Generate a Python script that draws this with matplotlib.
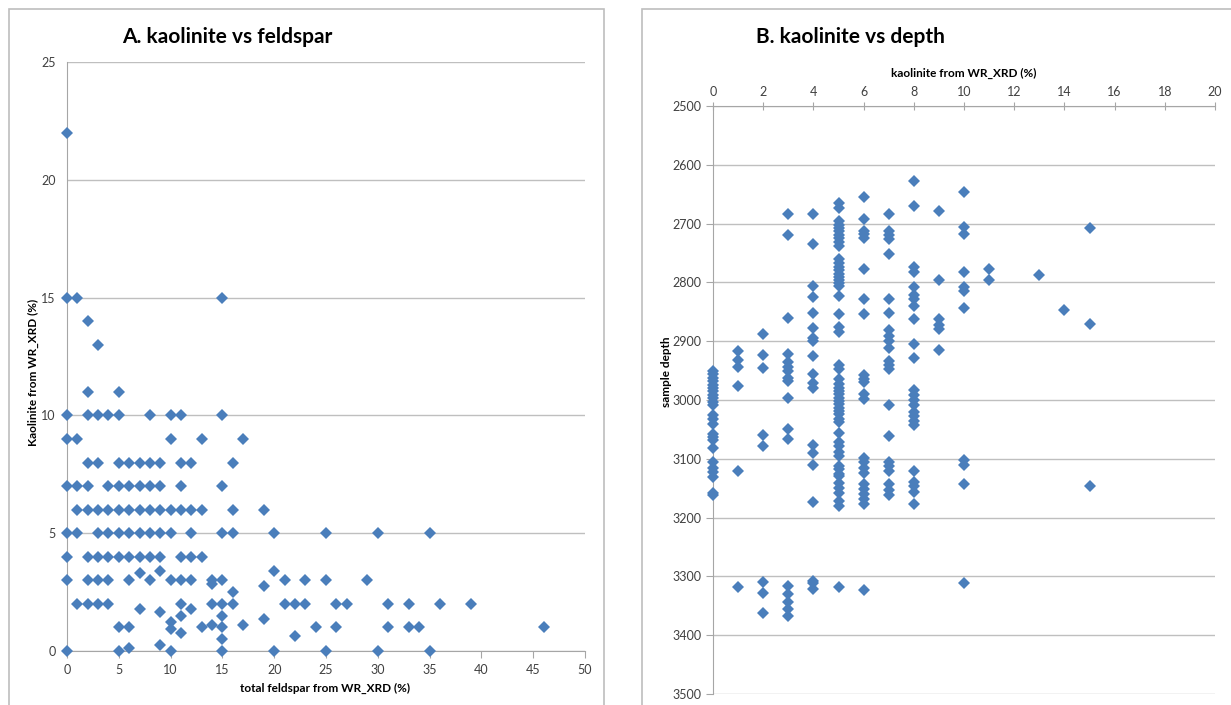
import matplotlib
matplotlib.use('Agg')
import matplotlib.pyplot as plt
from matplotlib.patches import Rectangle

plt.rcParams['font.family'] = ['Lato', 'DejaVu Sans']

# A. kaolinite vs feldspar (x = total feldspar %, y = kaolinite %)
feldspar = [0,
            0, 1, 15,
            2, 3, 2, 5,
            0, 2, 3, 4, 5, 8, 10, 11, 15,
            0, 1, 10, 13, 17,
            2, 3, 5, 6, 7, 8, 9, 11, 12, 16,
            0, 1, 2, 4, 5, 6, 7, 8, 9, 11, 15,
            1, 2, 3, 4, 5, 6, 7, 8, 9, 10, 11, 12, 13, 16, 19,
            0, 1, 3, 4, 5, 6, 7, 8, 9, 10, 12, 15, 16, 20, 25, 30, 35,
            0, 2, 3, 4, 5, 6, 7, 8, 9, 11, 12, 13,
            0, 2, 3, 4, 6, 8, 10, 11, 12, 14, 15, 21, 23, 25, 29,
            7, 9, 20, 14, 19, 16,
            1, 2, 3, 4, 11, 14, 15, 16, 21, 22, 23, 26, 27, 31, 33, 36, 39,
            7, 12, 9, 11, 15, 10, 19, 14, 17,
            5, 6, 13, 15, 24, 26, 31, 33, 34, 46, 10,
            11, 22, 15, 9, 6,
            0, 5, 10, 15, 20, 25, 30, 35]
kaolinite_a = [22,
               15, 15, 15,
               14, 13, 11, 11,
               10, 10, 10, 10, 10, 10, 10, 10, 10,
               9, 9, 9, 9, 9,
               8, 8, 8, 8, 8, 8, 8, 8, 8, 8,
               7, 7, 7, 7, 7, 7, 7, 7, 7, 7, 7,
               6, 6, 6, 6, 6, 6, 6, 6, 6, 6, 6, 6, 6, 6, 6,
               5, 5, 5, 5, 5, 5, 5, 5, 5, 5, 5, 5, 5, 5, 5, 5, 5,
               4, 4, 4, 4, 4, 4, 4, 4, 4, 4, 4, 4,
               3, 3, 3, 3, 3, 3, 3, 3, 3, 3, 3, 3, 3, 3, 3,
               3.3, 3.4, 3.4, 2.85, 2.75, 2.5,
               2, 2, 2, 2, 2, 2, 2, 2, 2, 2, 2, 2, 2, 2, 2, 2, 2,
               1.8, 1.8, 1.65, 1.5, 1.5, 1.25, 1.35, 1.1, 1.1,
               1, 1, 1, 1, 1, 1, 1, 1, 1, 1, 0.95,
               0.75, 0.65, 0.5, 0.25, 0.12,
               0, 0, 0, 0, 0, 0, 0, 0]

# B. kaolinite vs depth
kaol_0 = [2950, 2956, 2962, 2968, 2974, 2980, 2985, 2991, 2997, 3003, 3009, 3026,
          3032, 3040, 3058, 3063, 3068, 3081, 3106, 3115, 3122, 3131, 3158, 3162]
kaol_1 = [2917, 2932, 2944, 2977, 3120, 3318]
kaol_2 = [2888, 2924, 2945, 3059, 3079, 3309, 3329, 3362]
kaol_3 = [2683, 2720, 2861, 2921, 2936, 2944, 2950, 2963, 2967, 2997, 3050, 3067,
          3316, 3330, 3343, 3356, 3368]
kaol_4 = [2683, 2735, 2806, 2825, 2852, 2878, 2894, 2900, 2925, 2956, 2971, 2979,
          3076, 3090, 3111, 3173, 3307, 3312, 3322]
kaol_5 = [2665, 2673, 2695, 2702, 2708, 2713, 2719, 2725, 2731, 2738, 2761, 2767,
          2773, 2779, 2785, 2790, 2796, 2801, 2806, 2823, 2853, 2876, 2885, 2940,
          2948, 2965, 2972, 2979, 2985, 2990, 2996, 3002, 3007, 3013, 3019, 3024,
          3032, 3037, 3056, 3071, 3079, 3088, 3096, 3112, 3118, 3125, 3130, 3141,
          3149, 3158, 3172, 3180, 3318]
kaol_6 = [2655, 2693, 2712, 2718, 2725, 2777, 2828, 2853, 2958, 2965, 2970, 2990,
          2998, 3099, 3106, 3115, 3124, 3143, 3152, 3160, 3169, 3177, 3323]
kaol_7 = [2683, 2712, 2720, 2727, 2752, 2829, 2852, 2881, 2891, 2899, 2911, 2934,
          2941, 2948, 3008, 3061, 3105, 3113, 3121, 3143, 3153, 3162]
kaol_8 = [2627, 2670, 2774, 2782, 2808, 2822, 2828, 2840, 2862, 2905, 2929, 2983,
          2991, 3000, 3008, 3020, 3028, 3036, 3042, 3120, 3139, 3147, 3156, 3177]
kaol_9 = [2678, 2796, 2863, 2873, 2880, 2915]
kaol_10 = [2647, 2706, 2718, 2782, 2808, 2815, 2844, 3102, 3111, 3143, 3312]
kaol_11 = [2778, 2796]
kaol_13 = [2787]
kaol_14 = [2847]
kaol_15 = [2707, 2871, 3146]

depth_groups = {0: kaol_0, 1: kaol_1, 2: kaol_2, 3: kaol_3, 4: kaol_4, 5: kaol_5,
                6: kaol_6, 7: kaol_7, 8: kaol_8, 9: kaol_9, 10: kaol_10,
                11: kaol_11, 13: kaol_13, 14: kaol_14, 15: kaol_15}
kaolinite_b = []
depth = []
for k, ds in depth_groups.items():
    kaolinite_b += [k] * len(ds)
    depth += ds

blue = '#4A7EBB'
grid_c = '#BFBFBF'
axis_c = '#A6A6A6'
text_c = '#404040'
W, H = 1231, 705

fig = plt.figure(figsize=(W / 100, H / 100), dpi=100)

# Rahmen der beiden Diagramme
fig.patches.append(Rectangle((9 / W, -0.05), (604 - 9) / W, 1.05 - 9 / H,
                             transform=fig.transFigure, fill=False,
                             edgecolor='#BEBEBE', lw=1.2))
fig.patches.append(Rectangle((642 / W, -0.05), 0.6, 1.05 - 9 / H,
                             transform=fig.transFigure, fill=False,
                             edgecolor='#BEBEBE', lw=1.2))

# ---- A ----
ax1 = fig.add_axes([67 / W, 1 - 651 / H, (585 - 67) / W, (651 - 62) / H])
ax1.plot(feldspar, kaolinite_a, ls='none', marker='D', ms=6.6, mew=0,
         color=blue, zorder=3, clip_on=False)
ax1.set_xlim(0, 50)
ax1.set_ylim(0, 25)
ax1.set_xticks(range(0, 51, 5))
ax1.set_yticks(range(0, 26, 5))
ax1.grid(axis='y', color=grid_c, lw=1)
ax1.set_axisbelow(True)
for s in ['top', 'right']:
    ax1.spines[s].set_visible(False)
for s in ['left', 'bottom']:
    ax1.spines[s].set_color(axis_c)
ax1.tick_params(axis='x', direction='out', length=5, color=axis_c,
                labelsize=9, labelcolor=text_c, pad=4)
ax1.tick_params(axis='y', length=0, labelsize=9, labelcolor=text_c, pad=8)

fig.text(227 / W, 1 - 37 / H, 'A. kaolinite vs feldspar', fontsize=15,
         fontweight='bold', ha='center', va='center')
fig.text(325 / W, 1 - 688 / H, 'total feldspar from WR_XRD (%)', fontsize=8.5,
         fontweight='bold', ha='center', va='center')
fig.text(33 / W, 1 - 372 / H, 'Kaolinite from WR_XRD (%)', fontsize=8.5,
         fontweight='bold', ha='center', va='center', rotation=90)

# ---- B ----
ax2 = fig.add_axes([713 / W, 1 - 694 / H, (1215 - 713) / W, (694 - 106) / H])
ax2.plot(kaolinite_b, depth, ls='none', marker='D', ms=6.6, mew=0,
         color=blue, zorder=3, clip_on=False)
ax2.set_xlim(0, 20)
ax2.set_ylim(3500, 2500)
ax2.set_xticks(range(0, 21, 2))
ax2.set_yticks(range(2500, 3501, 100))
ax2.grid(axis='y', color=grid_c, lw=1)
ax2.set_axisbelow(True)
ax2.xaxis.tick_top()
for s in ['bottom', 'right']:
    ax2.spines[s].set_visible(False)
for s in ['left', 'top']:
    ax2.spines[s].set_color(axis_c)
ax2.tick_params(axis='x', direction='inout', length=6, color=axis_c,
                labelsize=9, labelcolor=text_c, pad=3)
ax2.tick_params(axis='y', direction='out', length=5, color=axis_c,
                labelsize=9, labelcolor=text_c, pad=3)

fig.text(850 / W, 1 - 37 / H, 'B. kaolinite vs depth', fontsize=15,
         fontweight='bold', ha='center', va='center')
fig.text(964 / W, 1 - 73 / H, 'kaolinite from WR_XRD (%)', fontsize=8.5,
         fontweight='bold', ha='center', va='center')
fig.text(666 / W, 1 - 372 / H, 'sample depth', fontsize=8.5,
         fontweight='bold', ha='center', va='center', rotation=90)

fig.savefig('out.png', dpi=100)
